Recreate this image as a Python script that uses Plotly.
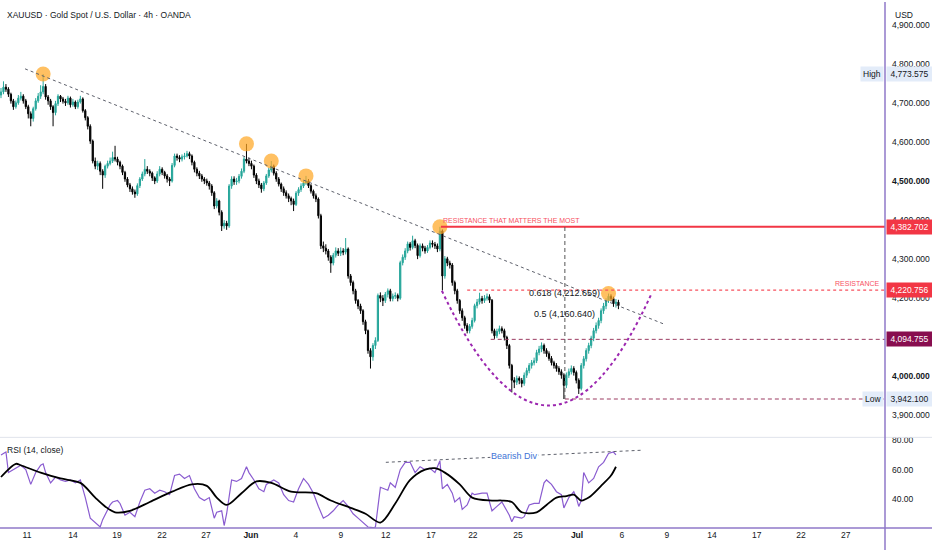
import plotly.graph_objects as go

TITLE = "XAUUSD · Gold Spot / U.S. Dollar · 4h · OANDA"

# 4h candles (bar index = position on the time axis)
first_open = 4720
closes = [
    4728, 4740, 4735, 4722, 4705, 4690, 4700, 4712, 4717, 4705,
    4690, 4672, 4660, 4685, 4705, 4717, 4728, 4742, 4715, 4705,
    4690, 4675, 4698, 4717, 4710, 4704, 4700, 4712, 4695, 4702,
    4690, 4702, 4710, 4680, 4662, 4640, 4602, 4551, 4538, 4545,
    4525, 4515, 4538, 4545, 4551, 4560, 4556, 4548, 4538, 4522,
    4505, 4490, 4480, 4472, 4467, 4488, 4505, 4518, 4530, 4525,
    4520, 4508, 4500, 4518, 4530, 4522, 4513, 4505, 4500, 4540,
    4564, 4560, 4556, 4562, 4564, 4570, 4564, 4548, 4530, 4520,
    4513, 4505, 4500, 4495, 4487, 4470, 4436, 4449, 4420, 4385,
    4392, 4385, 4487, 4505, 4498, 4500, 4512, 4525, 4556, 4551,
    4545, 4538, 4515, 4500, 4490, 4480, 4495, 4513, 4528, 4538,
    4520, 4505, 4492, 4480, 4470, 4462, 4455, 4449, 4440, 4469,
    4478, 4487, 4495, 4500, 4488, 4474, 4462, 4454, 4411, 4334,
    4328, 4321, 4305, 4290, 4310, 4321, 4315, 4321, 4318, 4326,
    4257, 4240, 4219, 4194, 4180, 4168, 4140, 4117, 4066, 4050,
    4079, 4092, 4207, 4200, 4194, 4210, 4219, 4199, 4205, 4207,
    4200, 4291, 4305, 4321, 4339, 4330, 4347, 4335, 4309, 4334,
    4328, 4321, 4330, 4341, 4338, 4334, 4326, 4372, 4257, 4301,
    4290, 4285, 4240, 4219, 4194, 4168, 4150, 4130, 4117, 4128,
    4143, 4181, 4190, 4199, 4194, 4200, 4204, 4195, 4117, 4104,
    4115, 4122, 4117, 4100, 4079, 4028, 3990, 3985, 3995, 3990,
    3982, 4003, 4015, 4028, 4035, 4040, 4061, 4070, 4079, 4066,
    4058, 4046, 4035, 4028, 4020, 4012, 4003, 3977, 4003, 4012,
    4020, 4010, 3990, 3969, 4028, 4045, 4066, 4079, 4098, 4117,
    4130, 4143, 4168, 4180, 4194, 4205, 4199, 4186, 4190, 4181,
]
highs = [
    4738, 4755, 4748, 4740, 4726, 4710, 4706, 4720, 4728, 4722,
    4710, 4695, 4678, 4690, 4712, 4725, 4745, 4773.575, 4748, 4720,
    4710, 4694, 4705, 4722, 4720, 4715, 4710, 4718, 4716, 4710,
    4706, 4708, 4718, 4714, 4684, 4666, 4645, 4606, 4560, 4552,
    4550, 4530, 4542, 4552, 4560, 4575, 4590, 4562, 4552, 4542,
    4526, 4510, 4495, 4486, 4478, 4494, 4510, 4524, 4556, 4538,
    4530, 4524, 4512, 4525, 4538, 4535, 4526, 4518, 4510, 4546,
    4570, 4570, 4566, 4568, 4572, 4577, 4575, 4568, 4552, 4535,
    4526, 4518, 4510, 4506, 4500, 4492, 4474, 4456, 4452, 4425,
    4400, 4398, 4492, 4512, 4512, 4508, 4518, 4532, 4562, 4595,
    4560, 4552, 4542, 4520, 4506, 4495, 4500, 4518, 4534, 4551,
    4542, 4525, 4510, 4496, 4486, 4476, 4468, 4460, 4455, 4474,
    4484, 4494, 4502, 4513, 4505, 4492, 4478, 4468, 4458, 4416,
    4345, 4338, 4326, 4310, 4316, 4330, 4328, 4330, 4328, 4354,
    4330, 4262, 4245, 4224, 4198, 4186, 4172, 4145, 4120, 4072,
    4085, 4100, 4212, 4215, 4208, 4216, 4225, 4224, 4212, 4215,
    4212, 4296, 4312, 4328, 4345, 4344, 4360, 4352, 4340, 4340,
    4340, 4334, 4336, 4348, 4348, 4344, 4340, 4382.702, 4376, 4308,
    4306, 4296, 4290, 4245, 4224, 4198, 4174, 4155, 4136, 4134,
    4150, 4186, 4198, 4214, 4206, 4208, 4212, 4210, 4198, 4122,
    4122, 4130, 4128, 4122, 4104, 4083, 4032, 3998, 4002, 4000,
    3996, 4010, 4022, 4034, 4042, 4048, 4068, 4078, 4087, 4084,
    4072, 4064, 4052, 4040, 4034, 4026, 4018, 4008, 4010, 4020,
    4028, 4026, 4015, 3995, 4034, 4052, 4072, 4086, 4104, 4124,
    4138, 4150, 4174, 4188, 4200, 4212, 4210, 4204, 4198, 4196,
]
lows = [
    4712, 4722, 4728, 4715, 4698, 4682, 4685, 4695, 4706, 4698,
    4684, 4660, 4640, 4652, 4680, 4700, 4710, 4722, 4708, 4695,
    4682, 4640, 4668, 4692, 4702, 4698, 4692, 4695, 4688, 4690,
    4684, 4685, 4698, 4675, 4655, 4632, 4595, 4545, 4530, 4528,
    4515, 4480, 4508, 4532, 4540, 4546, 4550, 4540, 4530, 4515,
    4498, 4484, 4472, 4465, 4457, 4462, 4482, 4500, 4512, 4518,
    4512, 4500, 4492, 4495, 4512, 4515, 4506, 4496, 4487, 4496,
    4535, 4552, 4548, 4550, 4555, 4560, 4556, 4540, 4522, 4512,
    4505, 4498, 4492, 4488, 4478, 4462, 4428, 4430, 4412, 4372,
    4378, 4375, 4380, 4480, 4490, 4490, 4494, 4506, 4520, 4545,
    4538, 4530, 4508, 4492, 4482, 4470, 4474, 4490, 4508, 4522,
    4514, 4498, 4486, 4472, 4462, 4455, 4446, 4438, 4423, 4436,
    4462, 4472, 4482, 4490, 4482, 4468, 4455, 4446, 4404, 4326,
    4318, 4312, 4296, 4265, 4284, 4304, 4308, 4308, 4310, 4312,
    4250, 4232, 4210, 4186, 4172, 4160, 4132, 4108, 4058, 4020,
    4040, 4070, 4088, 4190, 4180, 4188, 4202, 4192, 4192, 4198,
    4192, 4196, 4284, 4298, 4315, 4322, 4325, 4328, 4300, 4304,
    4320, 4314, 4316, 4325, 4330, 4326, 4318, 4320, 4220, 4250,
    4282, 4276, 4232, 4210, 4186, 4160, 4142, 4122, 4110, 4110,
    4122, 4138, 4174, 4184, 4186, 4188, 4194, 4188, 4110, 4096,
    4098, 4108, 4110, 4092, 4070, 4020, 3959, 3970, 3978, 3980,
    3972, 3976, 3996, 4008, 4020, 4028, 4034, 4054, 4062, 4058,
    4050, 4040, 4028, 4020, 4012, 4004, 3994, 3942.1, 3970, 3996,
    4005, 4002, 3982, 3955, 3964, 4020, 4038, 4058, 4072, 4090,
    4110, 4122, 4136, 4160, 4172, 4188, 4192, 4178, 4176, 4172,
]
opens = [first_open] + closes[:-1]
bars = list(range(len(closes)))

# RSI(14) and its moving average
rsi_bars = [0, 2, 3, 6, 8, 10, 12, 14, 16, 17, 18, 20, 22, 24, 26, 28, 30, 32, 34, 36,
            38, 40, 41, 44, 45, 47, 48, 50, 52, 54, 56, 58, 60, 62, 64, 66, 68, 70, 72, 74,
            76, 78, 80, 82, 84, 86, 87, 89, 90, 91, 93, 95, 97, 99, 100, 102, 104, 106, 107, 110,
            112, 114, 116, 118, 120, 122, 124, 126, 128, 130, 132, 134, 136, 138, 140, 142, 144, 146, 148, 150,
            151, 153, 156, 157, 159, 161, 163, 165, 167, 169, 171, 173, 175, 176, 177, 178, 180, 182, 183, 185,
            186, 188, 190, 191, 194, 196, 198, 200, 202, 204, 205, 206, 207, 210, 211, 213, 215, 217, 219, 220,
            222, 224, 226, 227, 229, 231, 232, 233, 234, 235, 237, 239, 241, 243, 245, 247, 248]
rsi_vals = [70, 72, 58, 61, 63, 60, 50, 58, 63, 64, 58, 51, 55, 53, 52, 53, 51, 53, 41, 27,
            24, 21, 26, 36, 38, 39, 37, 29, 31, 28, 38, 46, 47, 44, 46, 45, 43, 56, 57, 54,
            56, 47, 41, 39, 41, 27, 31, 32, 22, 30, 53, 52, 54, 62, 58, 53, 47, 45, 50, 53,
            51, 43, 39, 38, 47, 54, 50, 44, 35, 27, 29, 32, 36, 39, 35, 30, 27, 24, 21, 20.5,
            21, 48, 46, 51, 48, 60, 65, 65, 58, 62, 60, 61, 58, 62, 66, 47, 50, 44, 38, 41,
            33, 36, 44, 43, 44, 44, 32, 35, 38, 32, 29, 24.5, 28, 27, 28, 36, 37, 37, 51, 53,
            50, 45, 43, 34, 41, 45, 41, 35, 39, 58, 51, 54, 62, 65, 71, 72, 70]
ma_bars = [0, 6, 8, 16, 24, 32, 38, 42, 46, 52, 60, 69, 77, 83, 87, 91, 97, 103, 109, 117,
           127, 133, 141, 147, 153, 159, 165, 171, 175, 179, 185, 190, 198, 202, 206, 210, 216, 220, 224, 228,
           231, 234, 237, 242, 246, 248]
ma_vals = [55, 64, 63, 58, 54, 51, 41, 35, 31, 32, 38, 45, 50, 49, 41, 36, 44, 52, 51, 45,
           44, 39, 34, 30, 24, 37, 53, 60, 61, 58, 50, 41, 39, 39, 38, 31, 31, 36, 41, 42,
           43, 39, 41, 49, 56, 62]

tick_bars = [10.5, 29, 46.8, 64.9, 82.7, 100.8, 118.9, 137.1, 155.2, 173.4,
             190.3, 208.5, 232.3, 250.4, 268.5, 286.7, 304.8, 322.6, 340.7]
tick_labels = ["11", "14", "19", "22", "27", "<b>Jun</b>", "4", "9", "12", "17",
               "22", "25", "<b>Jul</b>", "6", "9", "14", "17", "22", "27"]

price_ticks = [3900, 4000, 4100, 4200, 4300, 4400, 4500, 4600, 4700, 4800, 4900]
rsi_ticks = [40, 60, 80]

level_top = 4382.702
level_res = 4220.756
level_mid = 4094.755
level_high = 4773.575
level_low = 3942.100
fib_levels = [4212.659, 4160.640]
fib_names = ["0.618", "0.5"]
touch_bars = [17, 99, 109, 123, 177, 245]

UP = "#26a69a"
DOWN = "#000000"
TXT = "#131722"
RED = "#f23645"
PINK = "#f7525f"
AXIS_PURPLE = "#8f78c8"
FONT = "Liberation Sans, Arial, sans-serif"

W, H = 932, 550
PLOT_W, PLOT_H = 885, 528
X_RANGE = [-0.4, 356.5]


def px(x):
    return x / PLOT_W


def py(y):
    return 1 - y / PLOT_H


split = py(437)

fig = go.Figure()

fig.add_trace(go.Candlestick(
    x=bars, open=opens, high=highs, low=lows, close=closes,
    xaxis="x", yaxis="y",
    increasing=dict(line=dict(color=UP, width=1), fillcolor=UP),
    decreasing=dict(line=dict(color=DOWN, width=1), fillcolor=DOWN),
    whiskerwidth=0, hoverinfo="skip"))

fig.add_trace(go.Scatter(
    x=touch_bars, y=[highs[b] for b in touch_bars], mode="markers",
    marker=dict(size=15, color="rgba(255,167,38,0.72)", line=dict(width=0)),
    xaxis="x", yaxis="y", hoverinfo="skip"))

fig.add_trace(go.Scatter(
    x=rsi_bars, y=rsi_vals, mode="lines", line=dict(color="#8a5cd0", width=1.2),
    xaxis="x2", yaxis="y2", hoverinfo="skip"))
fig.add_trace(go.Scatter(
    x=ma_bars, y=ma_vals, mode="lines", line=dict(color="#000000", width=1.8, shape="spline", smoothing=0.9),
    xaxis="x2", yaxis="y2", hoverinfo="skip"))

dash = "4px,3px"
shapes = [
    # main down trendline
    dict(type="line", xref="x", yref="y", x0=9.7, y0=4787, x1=267.7, y1=4133,
         line=dict(color="#5d606b", width=1, dash="3px,3px")),
    dict(type="line", xref="x", yref="y", x0=177.4, x1=X_RANGE[1], y0=level_top, y1=level_top,
         line=dict(color=RED, width=2)),
    dict(type="line", xref="x", yref="y", x0=188, x1=X_RANGE[1], y0=level_res, y1=level_res,
         line=dict(color=PINK, width=1.2, dash="dot")),
    dict(type="line", xref="x", yref="y", x0=197.5, x1=X_RANGE[1], y0=level_mid, y1=level_mid,
         line=dict(color="#9b3b61", width=1, dash=dash)),
    dict(type="line", xref="x", yref="y", x0=227.4, x1=X_RANGE[1], y0=level_low, y1=level_low,
         line=dict(color="#9b3b61", width=1, dash=dash)),
    dict(type="line", xref="x", yref="y", x0=227.4, x1=227.4, y0=level_low, y1=level_top,
         line=dict(color="#555555", width=1, dash=dash)),
    # cup
    dict(type="path", xref="x", yref="y",
         path="M 177.8,4219 Q 221.2,3634.7 262.5,4214",
         line=dict(color="#9c27b0", width=2, dash="dot")),
    # RSI divergence line
    dict(type="line", xref="x2", yref="y2", x0=155.2, y0=65, x1=258, y1=73.2,
         line=dict(color="#5d606b", width=1, dash="3px,3px")),
    # frame lines
    dict(type="line", xref="paper", yref="paper", x0=0, x1=W / PLOT_W, y0=split, y1=split,
         line=dict(color="#e0e3eb", width=1)),
    dict(type="line", xref="paper", yref="paper", x0=0, x1=W / PLOT_W, y0=0, y1=0,
         line=dict(color=AXIS_PURPLE, width=1.5)),
    dict(type="line", xref="paper", yref="paper", x0=1, x1=1, y0=-(H - PLOT_H) / PLOT_H, y1=1,
         line=dict(color=AXIS_PURPLE, width=1.5)),
]

annotations = [
    dict(xref="paper", yref="paper", x=px(5), y=py(13), xanchor="left", yanchor="middle",
         text=TITLE, showarrow=False, font=dict(size=8.5, color=TXT, family=FONT)),
    dict(xref="paper", yref="paper", x=px(5), y=py(450), xanchor="left", yanchor="middle",
         text="RSI (14, close)", showarrow=False, font=dict(size=8.5, color=TXT, family=FONT)),
    dict(xref="paper", yref="paper", x=px(893), y=py(13), xanchor="left", yanchor="middle",
         text="USD", showarrow=False, font=dict(size=8.5, color=TXT, family=FONT)),
    dict(xref="x2", yref="y2", x=207, y=69.3, text="Bearish Div", showarrow=False,
         bgcolor="white", borderpad=0, font=dict(size=9, color="#4274d6", family=FONT)),
    dict(xref="x", yref="y", x=177.6, y=level_top, xanchor="left", yanchor="bottom", yshift=1,
         text="RESISTANCE THAT MATTERS THE MOST", showarrow=False,
         font=dict(size=7, color=PINK, family=FONT)),
    dict(xref="paper", yref="y", x=px(882), y=level_res, xanchor="right", yanchor="bottom", yshift=1,
         text="RESISTANCE", showarrow=False, font=dict(size=7, color=PINK, family=FONT)),
]
for name, lvl in zip(fib_names, fib_levels):
    annotations.append(dict(xref="x", yref="y", x=227.4, y=lvl, xanchor="center", yanchor="middle",
                            text=f"{name} ({lvl:,.3f})", showarrow=False,
                            font=dict(size=9, color=TXT, family=FONT)))

for lvl, bg, fg in [(level_top, RED, "white"), (level_res, RED, "white"),
                    (level_mid, "#880e4f", "white"), (level_high, "#e3ecf9", TXT),
                    (level_low, "#e3ecf9", TXT)]:
    annotations.append(dict(xref="paper", yref="y", x=1, y=lvl, xanchor="left", yanchor="middle",
                            xshift=1, text=f"{lvl:,.3f}", showarrow=False, bgcolor=bg, borderpad=2,
                            width=41, font=dict(size=8.5, color=fg, family=FONT)))
for lbl, lvl in [("High", level_high), ("Low", level_low)]:
    annotations.append(dict(xref="paper", yref="y", x=1, y=lvl, xanchor="right", yanchor="middle",
                            xshift=-1, text=lbl, showarrow=False, bgcolor="#e3ecf9", borderpad=2,
                            font=dict(size=8.5, color=TXT, family=FONT)))

price_text = [f"<b>{p:,.3f}</b>" if p in (4000, 4500) else f"{p:,.3f}" for p in price_ticks]

fig.update_layout(
    width=W, height=H,
    margin=dict(l=0, r=W - PLOT_W, t=0, b=H - PLOT_H),
    paper_bgcolor="white", plot_bgcolor="white",
    showlegend=False, hovermode=False,
    font=dict(family=FONT, size=8.5, color=TXT),
    xaxis=dict(domain=[0, 1], anchor="y", range=X_RANGE, showticklabels=False,
               showgrid=False, zeroline=False, showline=False, rangeslider=dict(visible=False)),
    xaxis2=dict(domain=[0, 1], anchor="y2", range=X_RANGE, matches="x",
                tickmode="array", tickvals=tick_bars, ticktext=tick_labels, ticks="",
                showgrid=False, zeroline=False, showline=False,
                tickfont=dict(size=8.5, color=TXT)),
    yaxis=dict(domain=[split, 1], range=[3844, 4958], side="right",
               tickmode="array", tickvals=price_ticks, ticktext=price_text, ticks="",
               ticklabelstandoff=6, showgrid=False, zeroline=False, showline=False,
               tickfont=dict(size=8.5, color=TXT)),
    yaxis2=dict(domain=[0, split], range=[20.3, 82], side="right",
                tickmode="array", tickvals=rsi_ticks, tickformat=".2f", ticks="",
                ticklabelstandoff=6, showgrid=False, zeroline=False, showline=False,
                tickfont=dict(size=8.5, color=TXT)),
    shapes=shapes,
    annotations=annotations,
)

# drop the browser's default body margin so the 932x550 figure fills the window
fig.write_html("out.html", config={"displayModeBar": False},
               post_script="document.body.style.margin='0';document.body.style.overflow='hidden';")
